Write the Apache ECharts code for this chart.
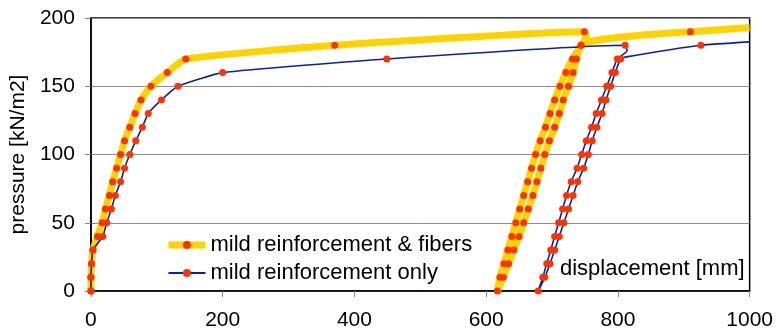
<!DOCTYPE html>
<html>
<head>
<meta charset="utf-8">
<script src="https://cdn.jsdelivr.net/npm/echarts@6/dist/echarts.min.js"></script>
<style>
  html, body { margin: 0; padding: 0; background: #fff; }
  #main { width: 776px; height: 333px; }
</style>
</head>
<body>
<div id="main"></div>
<script>
  // series data (displacement mm, pressure kN/m2)
  // mark: 1 = point has a marker, 0 = only a bend of the line
  var fibersX = [0, 0, 1, 3, 10, 17, 22, 28, 33, 39, 45, 51, 59, 67, 76, 91, 116, 144, 370, 749,
    752, 744, 731, 721, 712, 704, 697, 690, 682, 675, 669, 663, 657, 651, 645, 639, 633, 627, 621, 617,
    626, 634, 642, 650, 657, 664, 671, 677, 683, 689, 696, 704, 711, 717, 725, 732, 737, 744,
    765, 834, 910, 1000];
  var fibersY = [0, 10, 20, 30, 40, 50, 60, 70, 80, 90, 100, 110, 120, 130, 140, 150, 160, 170, 180, 190,
    186, 180, 170, 160, 150, 140, 130, 120, 110, 100, 90, 80, 70, 60, 50, 40, 30, 20, 10, 0,
    10, 20, 30, 40, 50, 60, 70, 80, 90, 100, 110, 120, 130, 140, 150, 160, 170, 180,
    183.5, 187.4, 190, 193];
  var fibersMark = [1, 1, 1, 1, 1, 1, 1, 1, 1, 1, 1, 1, 1, 1, 1, 1, 1, 1, 1, 1,
    0, 1, 1, 1, 1, 1, 1, 1, 1, 1, 1, 1, 1, 1, 1, 1, 1, 1, 1, 1,
    1, 1, 1, 1, 1, 1, 1, 1, 1, 1, 1, 1, 1, 1, 1, 1, 1, 1,
    0, 0, 1, 0];

  var onlyX = [0, 0, 1, 3, 18, 24, 31, 37, 45, 51, 59, 68, 78, 87, 107, 132, 200, 449, 811,
    814, 799, 791, 783, 775, 767, 760, 752, 745, 738, 729, 722, 716, 710, 704, 698, 692, 686, 679,
    689, 697, 704, 711, 718, 725, 732, 739, 748, 755, 761, 768, 776, 782, 789, 796, 804,
    813, 926, 1000];
  var onlyY = [0, 10, 20, 30, 40, 50, 60, 70, 80, 90, 100, 110, 120, 130, 140, 150, 160, 170, 180,
    176, 170, 160, 150, 140, 130, 120, 110, 100, 90, 80, 70, 60, 50, 40, 30, 20, 10, 0,
    10, 20, 30, 40, 50, 60, 70, 80, 90, 100, 110, 120, 130, 140, 150, 160, 170,
    171.5, 180, 182.5];
  var onlyMark = [1, 1, 1, 1, 1, 1, 1, 1, 1, 1, 1, 1, 1, 1, 1, 1, 1, 1, 1,
    0, 1, 1, 1, 1, 1, 1, 1, 1, 1, 1, 1, 1, 1, 1, 1, 1, 1, 1,
    1, 1, 1, 1, 1, 1, 1, 1, 1, 1, 1, 1, 1, 1, 1, 1, 1,
    0, 1, 0];

  var xTicks = { min: 0, max: 1000, step: 200 };
  var yTicks = { min: 0, max: 200, step: 50 };
  var names = ['mild reinforcement & fibers', 'mild reinforcement only'];

  function pairs(xs, ys, marks) {
    return xs.map(function (x, i) {
      var p = { value: [x, ys[i]] };
      if (!marks[i]) p.symbol = 'none';
      return p;
    });
  }

  var font = 'Liberation Sans, Arial, sans-serif';
  var markerColor = '#ff3300';
  var yellow = '#ffd200', blue = '#0a239c';

  var myChart = echarts.init(document.getElementById('main'));
  var option = {
    animation: false,
    grid: {
      left: 89, right: 26, top: 18, bottom: 42,
      show: true, borderColor: '#000', borderWidth: 1.5
    },
    legend: {
      orient: 'vertical',
      left: 160, top: 229,
      itemWidth: 37, itemHeight: 10, itemGap: 6,
      textStyle: { fontSize: 22, color: '#000', fontFamily: font },
      data: [
        { name: names[0], lineStyle: { width: 7, color: yellow } },
        { name: names[1], lineStyle: { width: 2, color: blue } }
      ]
    },
    graphic: [{
      type: 'text', left: 560, top: 258,
      style: { text: 'displacement [mm]', fontSize: 22, fill: '#000', fontFamily: font }
    }],
    xAxis: {
      type: 'value',
      min: xTicks.min, max: xTicks.max, interval: xTicks.step,
      axisLine: { lineStyle: { color: '#000', width: 1.5 } },
      axisTick: { show: true, length: 6, lineStyle: { color: '#888' } },
      splitLine: { show: false },
      axisLabel: {
        fontSize: 21, color: '#000', margin: 19, fontFamily: font,
        formatter: function (v) { return String(v); }
      }
    },
    yAxis: {
      type: 'value',
      min: yTicks.min, max: yTicks.max, interval: yTicks.step,
      name: 'pressure [kN/m2]', nameLocation: 'middle', nameGap: 58,
      nameTextStyle: { fontSize: 21, color: '#000', fontFamily: font },
      axisLine: { show: true, lineStyle: { color: '#000', width: 1.5 } },
      axisTick: { show: true, length: 6, lineStyle: { color: '#888' } },
      splitLine: { lineStyle: { color: '#8c8c8c', width: 1 } },
      axisLabel: { fontSize: 21, color: '#000', margin: 16, fontFamily: font }
    },
    series: [
      {
        name: names[0], type: 'line', smooth: 0.15,
        symbol: 'circle', symbolSize: 7,
        lineStyle: { color: yellow, width: 7 },
        itemStyle: { color: markerColor },
        data: pairs(fibersX, fibersY, fibersMark)
      },
      {
        name: names[1], type: 'line', smooth: 0.15,
        symbol: 'circle', symbolSize: 7,
        lineStyle: { color: blue, width: 1.6 },
        itemStyle: { color: markerColor },
        data: pairs(onlyX, onlyY, onlyMark)
      }
    ]
  };
  myChart.setOption(option);
</script>
</body>
</html>
